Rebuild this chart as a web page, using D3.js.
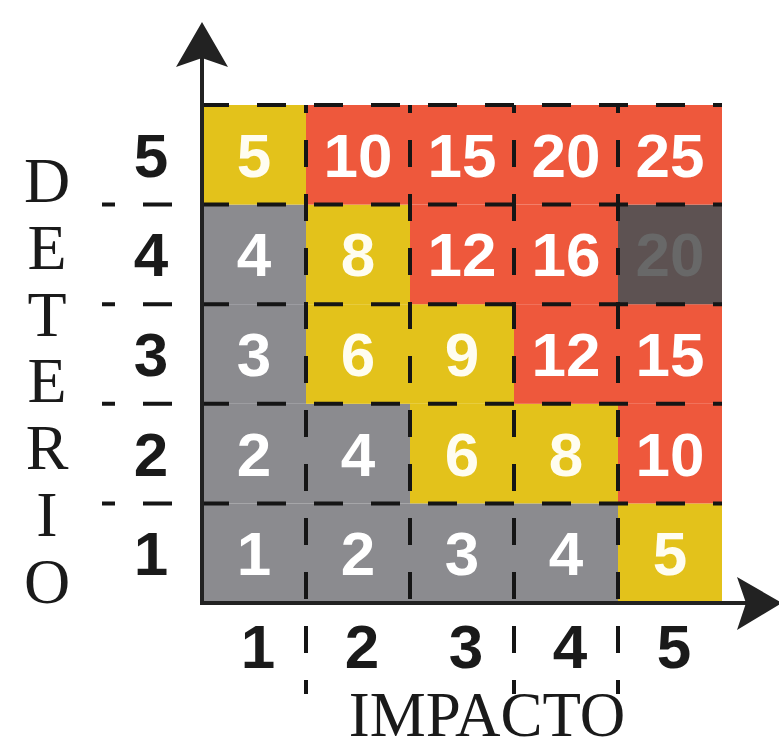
<!DOCTYPE html>
<html><head><meta charset="utf-8">
<script src="https://cdn.jsdelivr.net/npm/d3@7"></script>
<style>body{margin:0;background:#fff;} svg{display:block}</style>
</head><body>
<svg id="chart" width="779" height="750"></svg>
<script>
const impacto = [1, 2, 3, 4, 5];
const deterio = [1, 2, 3, 4, 5];
// rows: deterio 1 (bottom) .. 5 (top); columns: impacto 1..5
const cellValues = [
  [1, 2, 3, 4, 5],
  [2, 4, 6, 8, 10],
  [3, 6, 9, 12, 15],
  [4, 8, 12, 16, 20],
  [5, 10, 15, 20, 25]
];
const cellLevels = [
  ["bajo", "bajo", "bajo", "bajo", "medio"],
  ["bajo", "bajo", "medio", "medio", "alto"],
  ["bajo", "medio", "medio", "alto", "alto"],
  ["bajo", "medio", "alto", "alto", "critico"],
  ["medio", "alto", "alto", "alto", "alto"]
];
const levels = ["bajo", "medio", "alto", "critico"];
const levelColors = ["#8b8b8f", "#e3c21b", "#ee583c", "#5d5252"];
const levelTextColors = ["#ffffff", "#fffdf0", "#ffffff", "#686868"];
const yTitle = "DETERIO";
const xTitle = "IMPACTO";

const svg = d3.select("#chart");
const x = d3.scaleBand().domain(impacto).range([202, 722]);
const y = d3.scaleBand().domain(deterio.slice().reverse()).range([105, 603]);
const fill = d3.scaleOrdinal().domain(levels).range(levelColors);
const txt = d3.scaleOrdinal().domain(levels).range(levelTextColors);

const cells = [];
deterio.forEach((d, i) => impacto.forEach((m, j) => {
  cells.push({ imp: m, det: d, value: cellValues[i][j], level: cellLevels[i][j] });
}));

// cells
svg.append("g").selectAll("rect").data(cells).join("rect")
  .attr("x", d => x(d.imp)).attr("y", d => y(d.det))
  .attr("width", x.bandwidth()).attr("height", y.bandwidth())
  .attr("fill", d => fill(d.level));

// dashed grid
const gridColor = "#151515";
const hPeriod = 57, hDash = 29, hAnchor = 86;
const hLines = [];
deterio.forEach(d => { if (d < 5) hLines.push({ y: y(d), x1: 102, x2: 722 }); });
hLines.push({ y: y(5), x1: 202, x2: 722 });
svg.append("g").selectAll("line").data(hLines).join("line")
  .attr("x1", d => d.x1).attr("x2", d => d.x2)
  .attr("y1", d => d.y).attr("y2", d => d.y)
  .attr("stroke", gridColor).attr("stroke-width", 4)
  .attr("stroke-dasharray", `${hDash} ${hPeriod - hDash}`)
  .attr("stroke-dashoffset", d => ((d.x1 - hAnchor) % hPeriod + hPeriod) % hPeriod);

const vLines = impacto.slice(1).map(m => ({ x: x(m), y2: m === 3 ? 603 : 694 }));
svg.append("g").selectAll("line").data(vLines).join("line")
  .attr("x1", d => d.x).attr("x2", d => d.x)
  .attr("y1", 105).attr("y2", d => d.y2)
  .attr("stroke", gridColor).attr("stroke-width", 4)
  .attr("stroke-dasharray", "27 27")
  .attr("stroke-dashoffset", 19);

// cell numbers
svg.append("g").selectAll("text").data(cells).join("text")
  .attr("x", d => x(d.imp) + x.bandwidth() / 2)
  .attr("y", d => y(d.det) + y.bandwidth() / 2 + 22)
  .attr("text-anchor", "middle")
  .attr("font-family", "'Liberation Sans', Arial, sans-serif")
  .attr("font-weight", "bold")
  .attr("font-size", 62)
  .attr("fill", d => txt(d.level))
  .text(d => d.value);

// axes lines
const axisColor = "#222";
svg.append("line").attr("x1", 202).attr("x2", 202).attr("y1", 605).attr("y2", 58)
  .attr("stroke", axisColor).attr("stroke-width", 4);
svg.append("line").attr("x1", 200).attr("x2", 748).attr("y1", 603).attr("y2", 603)
  .attr("stroke", axisColor).attr("stroke-width", 4);
svg.append("path").attr("d", "M202,22 L228,67 L202,58 L176,67 Z").attr("fill", axisColor);
svg.append("path").attr("d", "M782,603 L737,577 L746,603 L737,630 Z").attr("fill", axisColor);

// tick labels via axes
const ax = svg.append("g").attr("transform", "translate(4,0)")
  .call(d3.axisBottom(x).tickSize(0).tickPadding(0));
ax.select(".domain").remove();
ax.selectAll("text").attr("y", 668).attr("dy", null)
  .attr("font-family", "'Liberation Sans', Arial, sans-serif")
  .attr("font-weight", "bold").attr("font-size", 62).attr("fill", "#1a1a1a");

const ay = svg.append("g").attr("transform", "translate(151,0)")
  .call(d3.axisLeft(y).tickSize(0).tickPadding(0));
ay.select(".domain").remove();
ay.selectAll("text").attr("x", 0).attr("dy", "0.355em").attr("text-anchor", "middle")
  .attr("font-family", "'Liberation Sans', Arial, sans-serif")
  .attr("font-weight", "bold").attr("font-size", 62).attr("fill", "#1a1a1a");

// titles
svg.append("g").selectAll("text").data(yTitle.split("")).join("text")
  .attr("x", 47).attr("y", (d, i) => 202 + i * 66.8)
  .attr("text-anchor", "middle")
  .attr("font-family", "'Liberation Serif', 'Times New Roman', serif")
  .attr("font-size", 64).attr("fill", "#1a1a1a")
  .text(d => d);

svg.append("text").attr("x", 487).attr("y", 736)
  .attr("text-anchor", "middle")
  .attr("font-family", "'Liberation Serif', 'Times New Roman', serif")
  .attr("font-size", 63).attr("fill", "#1a1a1a")
  .text(xTitle);
</script>
</body></html>
